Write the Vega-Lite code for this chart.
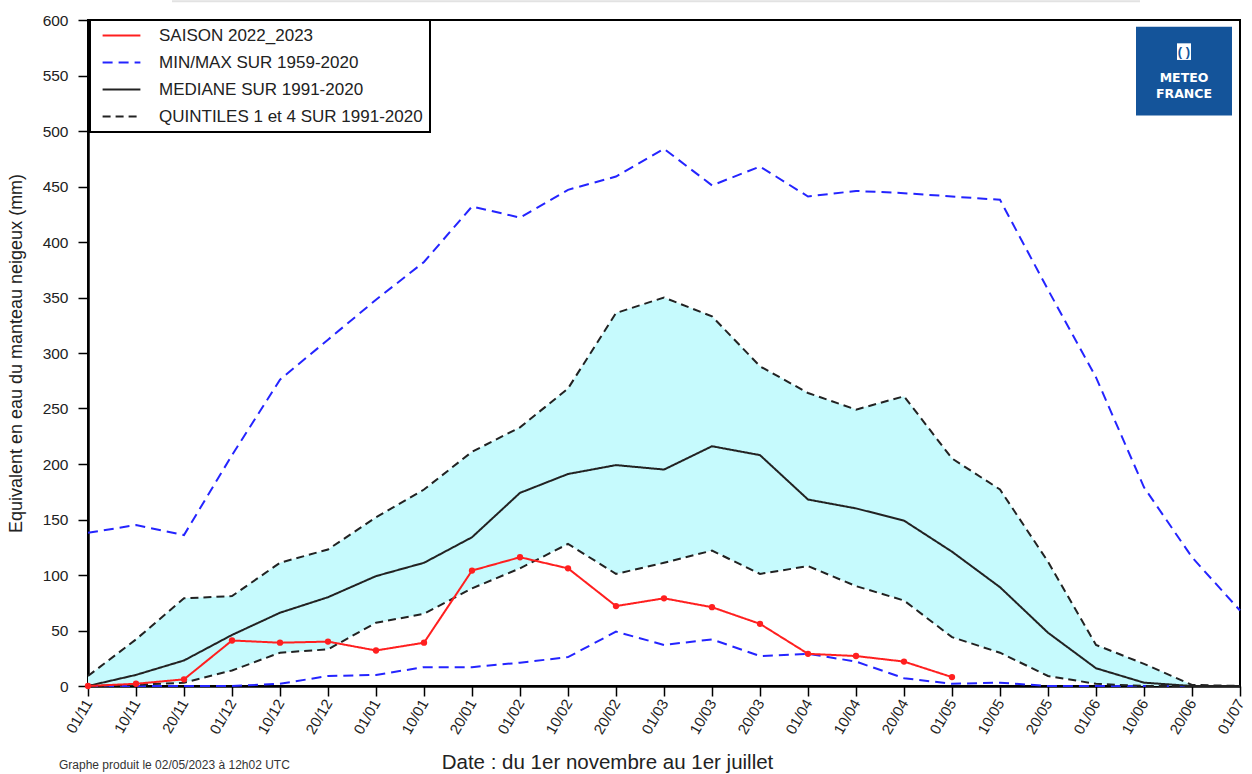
{
  "$schema": "https://vega.github.io/schema/vega-lite/v6.json",
  "autosize": {"type": "none"},
  "width": 1152,
  "height": 666,
  "padding": {"left": 88, "top": 20, "right": 12, "bottom": 88},
  "background": "white",
  "config": {
    "font": "Liberation Sans",
    "view": {"stroke": "black", "strokeWidth": 2},
    "axisY": {
      "titleFontSize": 18, "titleFontWeight": "normal", "titleColor": "#222", "titlePadding": 17,
      "values": [0,50,100,150,200,250,300,350,400,450,500,550,600],
      "labelFontSize": 15.5, "labelColor": "#222", "labelPadding": 10,
      "tickSize": 10, "tickColor": "black", "tickWidth": 1.5,
      "domainColor": "black", "domainWidth": 2.5, "grid": false
    },
    "axisX": {
      "titleFont": "Liberation Sans", "titleFontSize": 20.5, "titleFontWeight": "normal", "titleColor": "#222",
      "titleX": 519, "titleY": 76, "titleBaseline": "middle", "titleAlign": "center",
      "labelAngle": -60, "labelFontSize": 15, "labelColor": "#222", "labelPadding": 4, "labelDx": 2.6, "labelDy": 10.6,
      "tickSize": 10, "tickColor": "black", "tickWidth": 1.5,
      "domainColor": "black", "domainWidth": 2.5, "grid": false, "labelOverlap": false
    }
  },
  "data": {
    "values": [
      {"d": "01/11", "max": 138, "q4": 9, "med": 0, "q1": 0, "min": 0, "season": 0},
      {"d": "10/11", "max": 145, "q4": 42, "med": 10, "q1": 1, "min": 0, "season": 2},
      {"d": "20/11", "max": 136, "q4": 79, "med": 23, "q1": 3, "min": 0, "season": 6},
      {"d": "01/12", "max": 208, "q4": 81, "med": 46, "q1": 14, "min": 0, "season": 41},
      {"d": "10/12", "max": 276, "q4": 111, "med": 66, "q1": 30, "min": 2, "season": 39},
      {"d": "20/12", "max": 312, "q4": 123, "med": 80, "q1": 33, "min": 9, "season": 40},
      {"d": "01/01", "max": 348, "q4": 152, "med": 99, "q1": 57, "min": 10, "season": 32},
      {"d": "10/01", "max": 382, "q4": 177, "med": 111, "q1": 65, "min": 17, "season": 39},
      {"d": "20/01", "max": 432, "q4": 211, "med": 134, "q1": 88, "min": 17, "season": 104},
      {"d": "01/02", "max": 422, "q4": 233, "med": 174, "q1": 106, "min": 21, "season": 116},
      {"d": "10/02", "max": 447, "q4": 268, "med": 191, "q1": 128, "min": 26, "season": 106},
      {"d": "20/02", "max": 459, "q4": 336, "med": 199, "q1": 101, "min": 49, "season": 72},
      {"d": "01/03", "max": 484, "q4": 350, "med": 195, "q1": 111, "min": 37, "season": 79},
      {"d": "10/03", "max": 451, "q4": 333, "med": 216, "q1": 122, "min": 42, "season": 71},
      {"d": "20/03", "max": 468, "q4": 288, "med": 208, "q1": 101, "min": 27, "season": 56},
      {"d": "01/04", "max": 441, "q4": 264, "med": 168, "q1": 108, "min": 29, "season": 29},
      {"d": "10/04", "max": 446, "q4": 249, "med": 160, "q1": 90, "min": 22, "season": 27},
      {"d": "20/04", "max": 444, "q4": 261, "med": 149, "q1": 77, "min": 7, "season": 22},
      {"d": "01/05", "max": 441, "q4": 205, "med": 121, "q1": 44, "min": 2, "season": 8},
      {"d": "10/05", "max": 438, "q4": 177, "med": 89, "q1": 30, "min": 3, "season": null},
      {"d": "20/05", "max": 357, "q4": 112, "med": 48, "q1": 9, "min": 0, "season": null},
      {"d": "01/06", "max": 278, "q4": 37, "med": 16, "q1": 2, "min": 0, "season": null},
      {"d": "10/06", "max": 179, "q4": 20, "med": 3, "q1": 0, "min": 0, "season": null},
      {"d": "20/06", "max": 116, "q4": 1, "med": 0, "q1": 0, "min": 0, "season": null},
      {"d": "01/07", "max": 68, "q4": 0, "med": 0, "q1": 0, "min": 0, "season": null}
    ]
  },
  "layer": [
    {
      "mark": {"type": "area", "color": "#c6fafd", "opacity": 1},
      "encoding": {
        "x": {
          "field": "d", "type": "ordinal",
          "scale": {"type": "point", "padding": 0, "domain": ["01/11","10/11","20/11","01/12","10/12","20/12","01/01","10/01","20/01","01/02","10/02","20/02","01/03","10/03","20/03","01/04","10/04","20/04","01/05","10/05","20/05","01/06","10/06","20/06","01/07"]},
          "title": "Date : du 1er novembre au 1er juillet"
        },
        "y": {
          "field": "q1", "type": "quantitative",
          "scale": {"domain": [0, 600], "nice": false, "zero": true},
          "title": "Equivalent en eau du manteau neigeux (mm)"
        },
        "y2": {"field": "q4"}
      }
    },
    {
      "transform": [{"fold": ["max", "min", "q4", "q1", "med", "season"], "as": ["key", "value"]}],
      "mark": {"type": "line", "strokeCap": "butt"},
      "encoding": {
        "x": {"field": "d", "type": "ordinal", "title": "Date : du 1er novembre au 1er juillet"},
        "y": {"field": "value", "type": "quantitative", "title": "Equivalent en eau du manteau neigeux (mm)"},
        "color": {
          "field": "key", "type": "nominal",
          "scale": {"domain": ["max", "min", "q4", "q1", "med", "season"], "range": ["#2424ff", "#2424ff", "#222222", "#222222", "#222222", "#ff1f1f"]},
          "legend": {
            "values": ["season", "max", "med", "q4"],
            "labelExpr": "datum.value == 'season' ? 'SAISON 2022_2023' : datum.value == 'max' ? 'MIN/MAX SUR 1959-2020' : datum.value == 'med' ? 'MEDIANE SUR 1991-2020' : 'QUINTILES 1 et 4 SUR 1991-2020'",
            "title": null,
            "orient": "none", "legendX": 2, "legendY": 0,
            "padding": 7,
            "symbolType": "M-2.7,0H2.7",
            "symbolSize": 196,
            "symbolOffset": 16,
            "labelOffset": 29,
            "rowPadding": 9,
            "labelFontSize": 17, "labelColor": "#222", "labelLimit": 500,
            "strokeColor": "black", "fillColor": "white",
            "encode": {"legend": {"update": {"strokeWidth": {"value": 2}}}}
          }
        },
        "strokeDash": {
          "field": "key", "type": "nominal",
          "scale": {"domain": ["max", "min", "q4", "q1", "med", "season"], "range": [[10, 6], [10, 6], [8, 5], [8, 5], [1, 0], [1, 0]]}
        },
        "strokeWidth": {
          "field": "key", "type": "nominal",
          "scale": {"domain": ["max", "min", "q4", "q1", "med", "season"], "range": [2, 2, 1.7, 1.7, 1, 2.4]}
        }
      }
    },
    {
      "transform": [{"filter": "datum.season != null"}],
      "mark": {"type": "point", "filled": true, "size": 40, "color": "#ff1f1f", "opacity": 1},
      "encoding": {
        "x": {"field": "d", "type": "ordinal", "title": "Date : du 1er novembre au 1er juillet"},
        "y": {"field": "season", "type": "quantitative", "title": "Equivalent en eau du manteau neigeux (mm)"}
      }
    },
    {
      "data": {"values": [{"t": "Graphe produit le 02/05/2023 à 12h02 UTC"}]},
      "mark": {"type": "text", "align": "left", "baseline": "middle", "fontSize": 12, "xOffset": -29, "color": "#333"},
      "encoding": {
        "x": {"datum": "01/11", "type": "ordinal", "title": "Date : du 1er novembre au 1er juillet"},
        "y": {"datum": -71, "type": "quantitative", "title": "Equivalent en eau du manteau neigeux (mm)"},
        "text": {"field": "t"}
      }
    },
    {
      "data": {"values": [{"t": "top line"}]},
      "mark": {"type": "rule", "color": "#e2e2e2", "strokeWidth": 2, "xOffset": 36, "x2Offset": -4},
      "encoding": {
        "x": {"datum": "10/11", "type": "ordinal", "title": "Date : du 1er novembre au 1er juillet"},
        "x2": {"datum": "10/06"},
        "y": {"datum": 617, "type": "quantitative", "title": "Equivalent en eau du manteau neigeux (mm)"}
      }
    },
    {
      "data": {"values": [{"t": "logo"}]},
      "mark": {"type": "rect", "color": "#14549a", "xOffset": -8, "x2Offset": -8},
      "encoding": {
        "x": {"datum": "10/06", "type": "ordinal", "title": "Date : du 1er novembre au 1er juillet"},
        "x2": {"datum": "01/07"},
        "y": {"datum": 594, "type": "quantitative", "title": "Equivalent en eau du manteau neigeux (mm)"},
        "y2": {"datum": 514}
      }
    },
    {
      "data": {"values": [{"t": "icon"}]},
      "mark": {"type": "rect", "color": "white", "xOffset": -15, "x2Offset": -1},
      "encoding": {
        "x": {"datum": "20/06", "type": "ordinal", "title": "Date : du 1er novembre au 1er juillet"},
        "x2": {"datum": "20/06"},
        "y": {"datum": 579, "type": "quantitative", "title": "Equivalent en eau du manteau neigeux (mm)"},
        "y2": {"datum": 564}
      }
    },
    {
      "data": {"values": [{"t": "( )"}]},
      "mark": {"type": "text", "color": "#14549a", "fontSize": 13, "fontWeight": "bold", "xOffset": -8, "baseline": "middle", "align": "center"},
      "encoding": {
        "x": {"datum": "20/06", "type": "ordinal", "title": "Date : du 1er novembre au 1er juillet"},
        "y": {"datum": 571.5, "type": "quantitative", "title": "Equivalent en eau du manteau neigeux (mm)"},
        "text": {"field": "t"}
      }
    },
    {
      "data": {"values": [{"t": "METEO", "v": 548}, {"t": "FRANCE", "v": 533}]},
      "mark": {"type": "text", "color": "white", "fontSize": 12.5, "fontWeight": "bold", "xOffset": -8, "baseline": "middle", "align": "center", "font": "DejaVu Sans"},
      "encoding": {
        "x": {"datum": "20/06", "type": "ordinal", "title": "Date : du 1er novembre au 1er juillet"},
        "y": {"field": "v", "type": "quantitative", "title": "Equivalent en eau du manteau neigeux (mm)"},
        "text": {"field": "t"}
      }
    }
  ]
}
